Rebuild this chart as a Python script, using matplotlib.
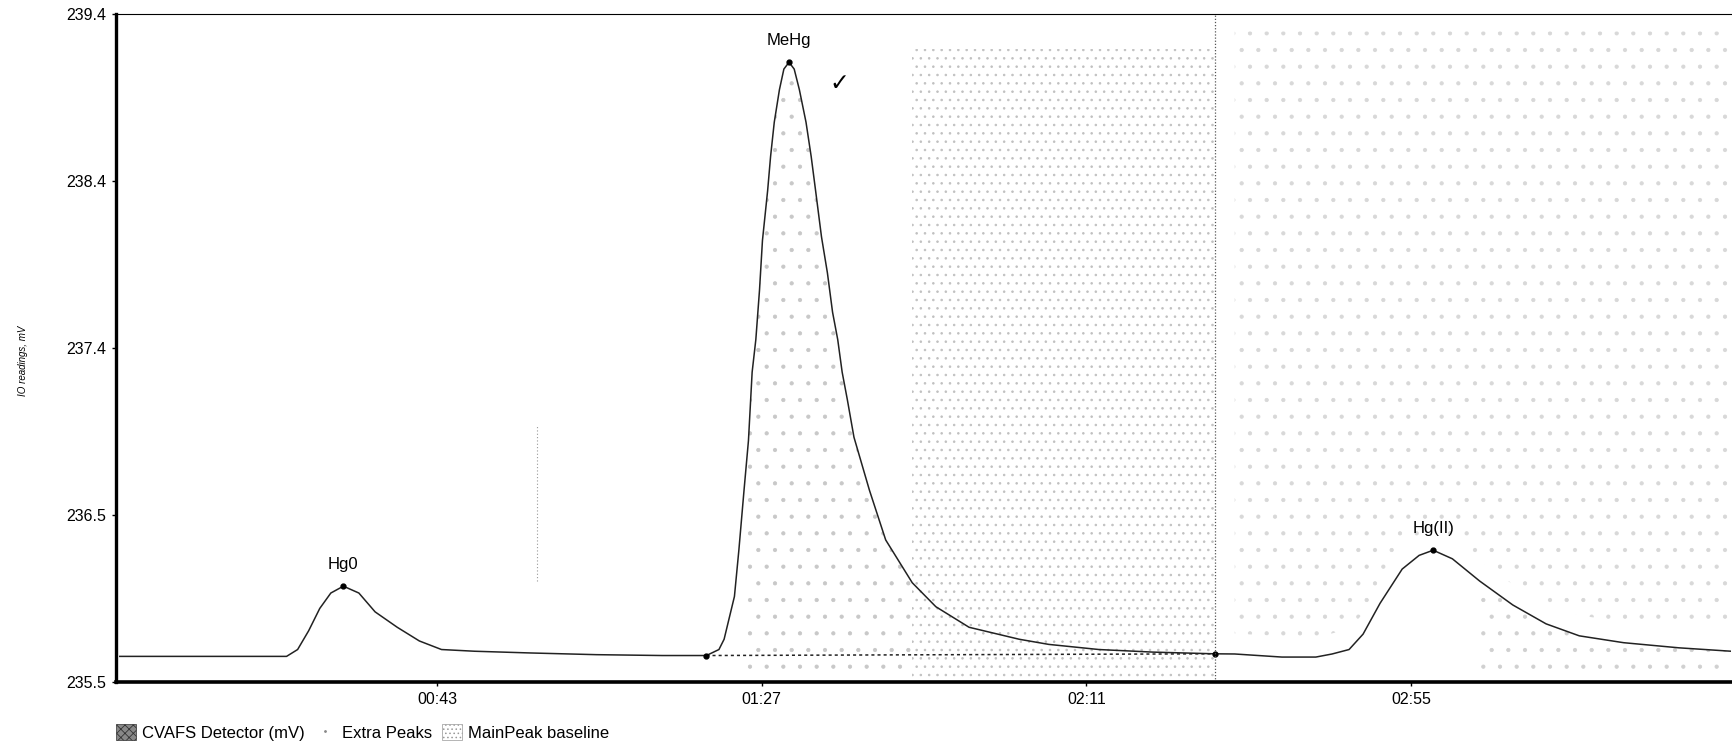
import numpy as np
import matplotlib.pyplot as plt
from matplotlib.patches import Patch
from matplotlib.lines import Line2D

plt.rcParams['font.family'] = ['Liberation Sans', 'DejaVu Sans']
plt.rcParams['hatch.linewidth'] = 0.6

# detector trace (time in s, signal in mV)
time_s = [0, 13.7, 22.6, 24.1, 25.6, 27.1, 28.6, 30.3, 32.4, 34.6, 37.6, 40.6, 43.6,
          48.1, 55.6, 64.6, 73.5, 79.5, 81.2, 81.9, 83.3, 83.9, 84.6, 85.2, 85.7,
          86.2, 86.7, 87.1, 87.8, 88.2, 88.7, 89.4, 90.0, 90.7, 91.4, 92.1, 93.0,
          93.7, 94.3, 95.1, 95.9, 96.6, 97.3, 97.9, 98.6, 99.5, 101.6, 103.8, 107.4,
          110.6, 115.1, 121.9, 125.9, 132.7, 140.0, 148.4, 151.1, 157.5, 162.1,
          164.3, 166.6, 168.5, 170.8, 173.8, 176.1, 178.0, 180.6, 184.3, 188.8,
          193.3, 197.8, 203.8, 211.3, 218.4]
signal_mv = [235.65, 235.65, 235.65, 235.69, 235.80, 235.93, 236.02, 236.06, 236.02,
             235.91, 235.82, 235.74, 235.69, 235.68, 235.67, 235.66, 235.655, 235.655,
             235.69, 235.75, 236.00, 236.27, 236.62, 236.91, 237.31, 237.50, 237.79,
             238.08, 238.37, 238.57, 238.77, 238.96, 239.08, 239.12, 239.08, 238.96,
             238.77, 238.57, 238.37, 238.10, 237.89, 237.66, 237.50, 237.31, 237.15,
             236.93, 236.62, 236.33, 236.08, 235.94, 235.82, 235.75, 235.72, 235.69,
             235.675, 235.665, 235.664, 235.646, 235.646, 235.664, 235.69, 235.78,
             235.96, 236.16, 236.24, 236.27, 236.22, 236.09, 235.95, 235.84, 235.77,
             235.73, 235.70, 235.68]

peak_names = ['Hg0', 'MeHg', 'Hg(II)']
peak_time = [30.3, 90.7, 178.0]
peak_mv = [236.06, 239.12, 236.27]

baseline_time = [79.5, 148.4]
baseline_mv = [235.655, 235.665]

x_ticks = [43, 87, 131, 175]
x_labels = ['00:43', '01:27', '02:11', '02:55']
y_ticks = list(np.linspace(235.5, 239.4, 5))
y_labels = ['235.5', '236.5', '237.4', '238.4', '239.4']

fig = plt.figure(figsize=(17.33, 7.52), dpi=100)
ax = fig.add_axes([0.067, 0.093, 0.932, 0.888])

t = np.array(time_s)
v = np.array(signal_mv)

# faint stipple left over in the scan
m = (t >= 84.6) & (t <= 107.4)
ax.fill_between(t[m], 235.52, v[m], facecolor='none', edgecolor='#c8c8c8', hatch='.', linewidth=0)
ax.fill_between([107.4, 148.4], 235.52, 239.2, facecolor='none', edgecolor='#c0c0c0', hatch='..', linewidth=0)
m2 = t >= 151
ax.fill_between(t[m2], v[m2] + 0.12, 239.3, facecolor='none', edgecolor='#d8d8d8', hatch='.', linewidth=0)
m3 = t >= 184
ax.fill_between(t[m3], 235.55, v[m3], facecolor='none', edgecolor='#d0d0d0', hatch='.', linewidth=0)

ax.plot(t, v, color='#222222', lw=1.1)

# main peak baseline and integration end
ax.plot(baseline_time, baseline_mv, color='#222222', lw=1.1, ls=(0, (2, 2)))
ax.plot(baseline_time, baseline_mv, 'o', color='black', ms=3.5)
ax.axvline(baseline_time[1], color='#555555', lw=0.9, ls=(0, (1, 1.5)))
ax.plot([56.5, 56.5], [236.09, 237.0], color='#999999', lw=0.8, ls=(0, (1, 2)))

ax.plot(peak_time, peak_mv, 'o', color='black', ms=3.5)
for name, pt, pv in zip(peak_names, peak_time, peak_mv):
    ax.annotate(name, (pt, pv), xytext=(0, 10), textcoords='offset points',
                ha='center', va='bottom', fontsize=12)
ax.text(97.5, 239.0, '\u2713', fontsize=17, ha='center', va='center',
        family=['DejaVu Sans'])

ax.set_xlim(-0.5, 218.4)
ax.set_ylim(235.5, 239.4)
ax.set_xticks(x_ticks)
ax.set_xticklabels(x_labels)
ax.set_yticks(y_ticks)
ax.set_yticklabels(y_labels)
ax.tick_params(labelsize=11.5, length=3, width=1, pad=4)

ax.spines['left'].set_linewidth(2.4)
ax.spines['bottom'].set_linewidth(2.6)
ax.spines['top'].set_linewidth(0.8)
ax.spines['right'].set_visible(False)

fig.text(0.013, 0.52, 'IO readings, mV', rotation=90, ha='center', va='center',
         fontsize=7, style='italic')

handles = [Patch(facecolor='#888888', edgecolor='#333333', hatch='xxxx', lw=0.5),
           Line2D([], [], marker='.', color='#888888', ls='none', ms=2),
           Patch(facecolor='white', edgecolor='#999999', hatch='....', lw=0.5)]
labels = ['CVAFS Detector (mV)', 'Extra Peaks', 'MainPeak baseline']
fig.legend(handles, labels, loc='lower left', bbox_to_anchor=(0.058, -0.005), ncol=3,
           frameon=False, fontsize=12, handlelength=1.2, handleheight=1.1,
           handletextpad=0.4, columnspacing=0.6)

fig.savefig('out.png', dpi=100)
